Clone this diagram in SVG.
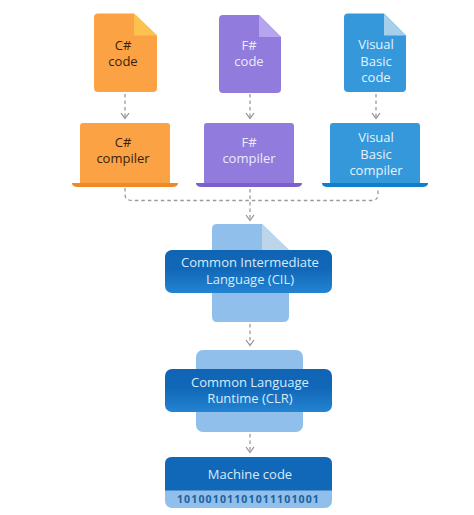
<svg xmlns="http://www.w3.org/2000/svg" width="474" height="515" viewBox="0 0 474 515">
<defs>
<linearGradient id="band" x1="0" y1="0" x2="0" y2="1"><stop offset="0" stop-color="#0f64b4"/><stop offset="0.45" stop-color="#1268b8"/><stop offset="1" stop-color="#2384d2"/></linearGradient>
</defs>
<style>
text{font-family:"Open Sans","Noto Sans","Liberation Sans",sans-serif;font-size:13px;text-anchor:middle}
.dk{fill:#3d2106}
.lt{fill:#eee9fa}
.wh{fill:#e6f2fb}
.band{fill:#d7ebfb}
.conn{fill:none;stroke:#9a9a9a;stroke-width:1.3;stroke-dasharray:3.5 3}
.head{fill:none;stroke:#8f8f8f;stroke-width:1.2}
</style>
<rect width="474" height="515" fill="#fff"/>
<g id="connectors">
<path class="conn" d="M125 94V117"/><path class="head" d="M121 113L125 118.500L129 113"/>
<path class="conn" d="M250 94V117"/><path class="head" d="M246 113L250 118.500L254 113"/>
<path class="conn" d="M376 94V117"/><path class="head" d="M372 113L376 118.500L380 113"/>
<path class="conn" d="M125 188V194Q125 200.500 132 200.500H372Q378 200.500 378 194V188"/>
<path class="conn" d="M250 189V219"/><path class="head" d="M246 215L250 220.500L254 215"/>
<path class="conn" d="M250 324V344"/><path class="head" d="M246 340L250 345.500L254 340"/>
<path class="conn" d="M250 434V451"/><path class="head" d="M246 447L250 452.500L254 447"/>
</g>
<g id="csharp-code">
<path d="M98 13.500H134L157 35.500V88Q157 92 153 92H98Q94 92 94 88V17.500Q94 13.500 98 13.500Z" fill="#fba245"/>
<path d="M134 13.500L157 35.500H134Z" fill="#fdc24d"/>
<text class="dk"><tspan x="123" y="50">C#</tspan><tspan x="123" y="66">code</tspan></text>
</g>
<g id="fsharp-code">
<path d="M223 15H259L281 37V89Q281 93 277 93H223Q219 93 219 89V19Q219 15 223 15Z" fill="#917bdc"/>
<path d="M259 15L281 37H259Z" fill="#b4a5ee"/>
<text class="lt"><tspan x="249" y="50">F#</tspan><tspan x="249" y="66">code</tspan></text>
</g>
<g id="vb-code">
<path d="M348 13.500H384L406 35.500V88Q406 92 402 92H348Q344 92 344 88V17.500Q344 13.500 348 13.500Z" fill="#3498db"/>
<path d="M384 13.500L406 35.500H384Z" fill="#a6cfec"/>
<text class="wh"><tspan x="376" y="49">Visual</tspan><tspan x="376" y="66">Basic</tspan><tspan x="376" y="82">code</tspan></text>
</g>
<g id="csharp-compiler">
<path d="M83 123H167Q170 123 170 126V183H80V126Q80 123 83 123Z" fill="#fba245"/>
<path d="M72 183H178Q178 187 172 187H78Q72 187 72 183Z" fill="#ee8a24"/>
<text class="dk"><tspan x="123" y="147">C#</tspan><tspan x="123" y="163">compiler</tspan></text>
</g>
<g id="fsharp-compiler">
<path d="M207 123H291Q294 123 294 126V183H204V126Q204 123 207 123Z" fill="#917bdc"/>
<path d="M196 183H302Q302 187 296 187H202Q196 187 196 183Z" fill="#7a60cc"/>
<text class="lt"><tspan x="249" y="147">F#</tspan><tspan x="249" y="163">compiler</tspan></text>
</g>
<g id="vb-compiler">
<path d="M333 123H417Q420 123 420 126V183H330V126Q330 123 333 123Z" fill="#3498db"/>
<path d="M322 183H428Q428 187 422 187H328Q322 187 322 183Z" fill="#0f7fcb"/>
<text class="wh"><tspan x="376" y="142">Visual</tspan><tspan x="376" y="159">Basic</tspan><tspan x="376" y="175">compiler</tspan></text>
</g>
<g id="cil">
<path d="M217 224H262L289 250V316Q289 322 283 322H217Q212 322 212 316V229Q212 224 217 224Z" fill="#8fbfea"/>
<path d="M262 224L289 250H262Z" fill="#bcd5eb"/>
<rect x="165" y="250" width="167" height="43" rx="7" fill="url(#band)"/>
<text class="band"><tspan x="250" y="267">Common Intermediate</tspan><tspan x="250" y="284">Language (CIL)</tspan></text>
</g>
<g id="clr">
<rect x="196" y="350" width="107" height="82" rx="7" fill="#8fbfea"/>
<rect x="165" y="369" width="167" height="43" rx="7" fill="url(#band)"/>
<text class="band"><tspan x="250" y="387">Common Language</tspan><tspan x="250" y="403">Runtime (CLR)</tspan></text>
</g>
<g id="machine-code">
<rect x="165" y="457" width="167" height="51" rx="7" fill="#8fbfea"/>
<path d="M172 457H325Q332 457 332 464V490.500H165V464Q165 457 172 457Z" fill="#1268b8"/>
<text class="band" x="250" y="479">Machine code</text>
<text x="248.500" y="503" style="font-size:10.500px;font-weight:700;letter-spacing:1.15px;fill:#1c5f9e">10100101101011101001</text>
</g>
</svg>
